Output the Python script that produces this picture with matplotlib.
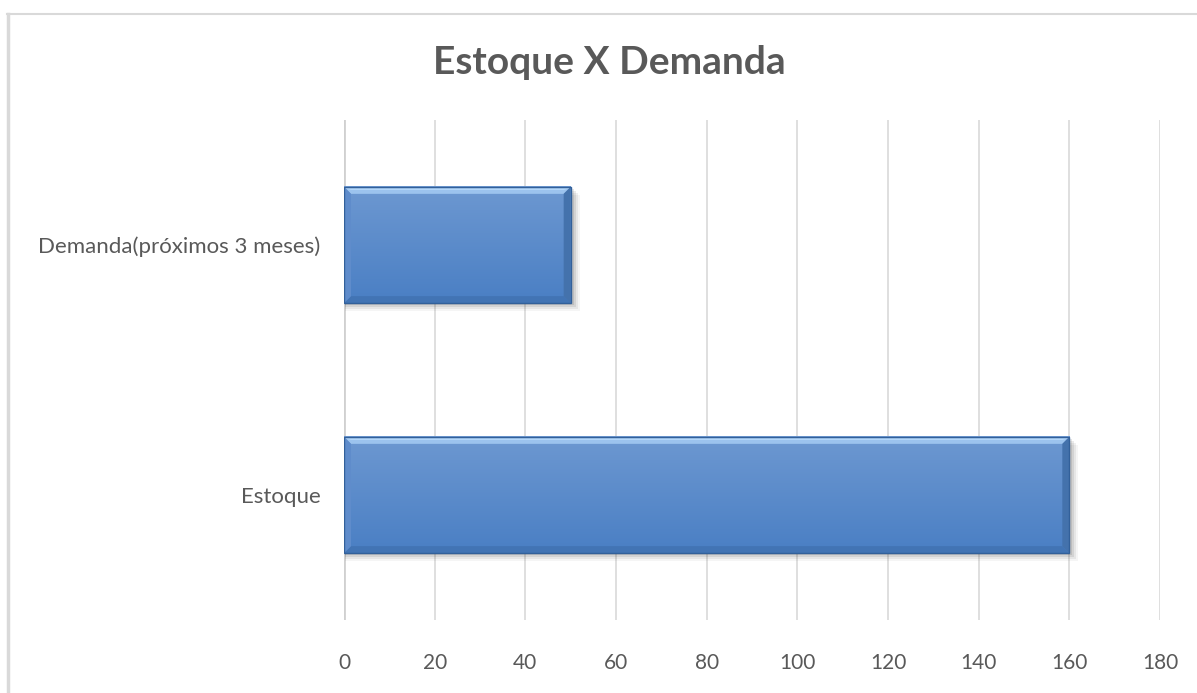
import numpy as np
import matplotlib.pyplot as plt
from matplotlib.patches import Polygon, Rectangle
from matplotlib.lines import Line2D
from matplotlib.colors import to_rgb

# dados do gráfico
categorias = ['Estoque', 'Demanda(próximos 3 meses)']
valores = [160, 50]
xticks = [0, 20, 40, 60, 80, 100, 120, 140, 160, 180]
titulo = 'Estoque X Demanda'

W, H, DPI = 1197, 693, 100
plt.rcParams['font.family'] = ['Lato', 'DejaVu Sans']

fig = plt.figure(figsize=(W / DPI, H / DPI), dpi=DPI)
fig.patch.set_facecolor('white')

# área do gráfico (em pixels da imagem)
x0, x1, ytop, ybot = 344, 1160, 120, 620
ax = fig.add_axes([x0 / W, (H - ybot) / H, (x1 - x0) / W, (ybot - ytop) / H])

xmin, xmax = 0, 180
ymin, ymax = -0.5, 1.5
ppx = (x1 - x0) / (xmax - xmin)   # pixels por unidade x
ppy = (ybot - ytop) / (ymax - ymin)

gap = 1.15
h = 1 / (1 + gap)

def grad(c_top, c_bot, n=64):
    a, b = np.array(to_rgb(c_top)), np.array(to_rgb(c_bot))
    t = np.linspace(0, 1, n)[:, None]
    return (a * (1 - t) + b * t)[:, None, :]

for i, v in enumerate(valores):
    yb, yt = i - h / 2, i + h / 2
    # sombra
    for k, al in zip([8, 6, 4, 2], [0.04, 0.06, 0.08, 0.10]):
        ax.add_patch(Rectangle((1 / ppx, yb - k / ppy), v + k / ppx, h,
                               facecolor='black', alpha=al, edgecolor='none', zorder=2))
    # corpo com degradê
    ax.imshow(grad('#6d98d1', '#4a7fc4'), extent=[0, v, yb, yt], aspect='auto',
              origin='upper', zorder=3, interpolation='bilinear')
    bx, by = 7 / ppx, 7 / ppy
    # chanfros
    ax.add_patch(Polygon([(0, yt), (v, yt), (v - bx, yt - by), (bx, yt - by)],
                         closed=True, facecolor='#9cc3ee', edgecolor='none', zorder=4))
    ax.add_patch(Polygon([(0, yt - 1.5 / ppy), (v, yt - 1.5 / ppy), (v - bx, yt - 3 / ppy), (bx, yt - 3 / ppy)],
                         closed=True, facecolor='#b9dbfb', edgecolor='none', zorder=4))
    ax.add_patch(Polygon([(0, yb), (v, yb), (v - bx, yb + by), (bx, yb + by)],
                         closed=True, facecolor='#4274b4', edgecolor='none', zorder=4))
    ax.add_patch(Polygon([(v, yb), (v, yt), (v - bx, yt - by), (v - bx, yb + by)],
                         closed=True, facecolor='#4472ac', edgecolor='none', zorder=4))
    ax.add_patch(Polygon([(0, yb), (0, yt), (bx, yt - by), (bx, yb + by)],
                         closed=True, facecolor='#5f8ccb', edgecolor='none', zorder=4))
    ax.add_patch(Rectangle((0, yb), v, h, facecolor='none', edgecolor='#32609a',
                           linewidth=1.0, zorder=5))

ax.set_xlim(xmin, xmax)
ax.set_ylim(ymin, ymax)
ax.set_xticks(xticks)
ax.set_yticks(range(len(categorias)))
ax.set_yticklabels(categorias)
ax.grid(axis='x', color='#d9d9d9', linewidth=1.2, zorder=0)
ax.set_axisbelow(True)
ax.axvline(0, color='#d0d0d0', linewidth=2, zorder=1)
for s in ax.spines.values():
    s.set_visible(False)
ax.tick_params(axis='both', length=0, colors='#595959')
ax.tick_params(axis='x', pad=24, labelsize=15)
ax.tick_params(axis='y', pad=17, labelsize=16)

fig.text(609 / W, 1 - 63 / H, titulo, ha='center', va='center',
         fontsize=28, fontweight='bold', color='#595959')

# moldura do gráfico
fig.add_artist(Line2D([7 / W, 1.0], [1 - 14 / H, 1 - 14 / H], color='#d9d9d9', linewidth=1.5))
fig.add_artist(Line2D([7.5 / W, 7.5 / W], [0, 1 - 14 / H], color='#d9d9d9', linewidth=2.5))

fig.savefig('out.png', dpi=DPI)
